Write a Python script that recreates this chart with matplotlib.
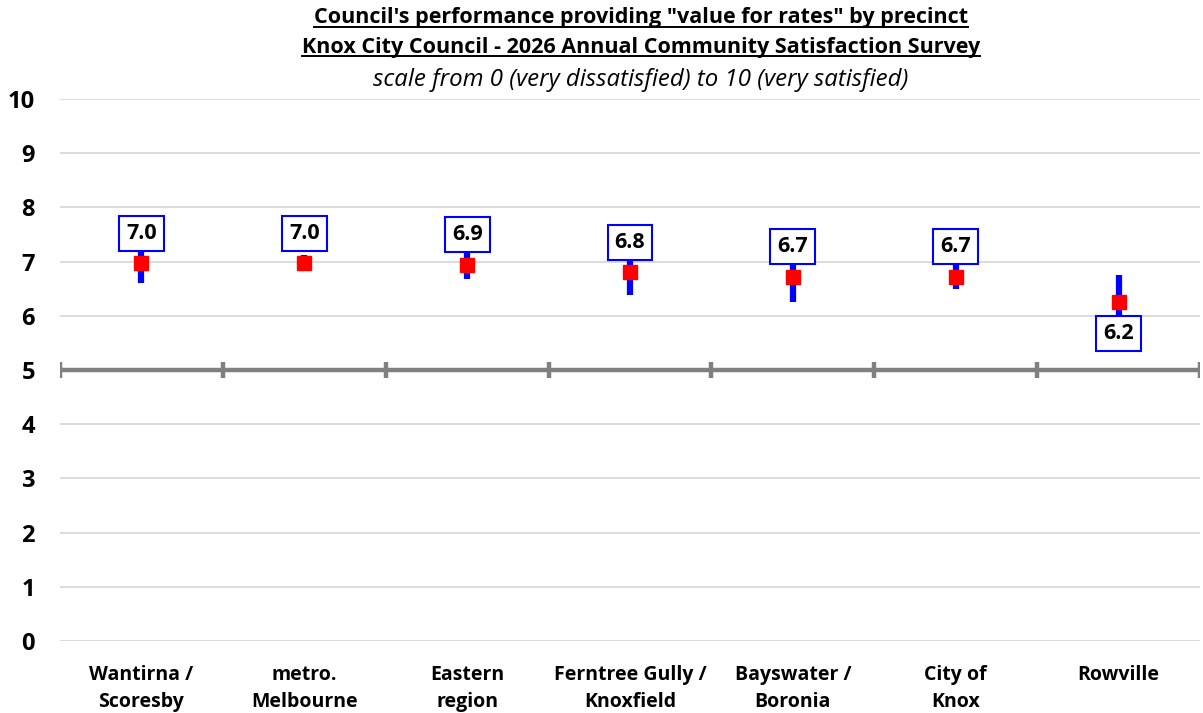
import matplotlib
matplotlib.use("Agg")
import matplotlib.pyplot as plt
from matplotlib.lines import Line2D

plt.rcParams['font.family'] = ['Open Sans', 'DejaVu Sans']

categories = ["Wantirna /\nScoresby", "metro.\nMelbourne", "Eastern\nregion",
              "Ferntree Gully /\nKnoxfield", "Bayswater /\nBoronia", "City of\nKnox", "Rowville"]
means = [6.97, 6.97, 6.94, 6.80, 6.72, 6.72, 6.25]
ci = [0.37, 0.15, 0.26, 0.41, 0.47, 0.22, 0.50]
labels = ["7.0", "7.0", "6.9", "6.8", "6.7", "6.7", "6.2"]
label_above = [True, True, True, True, True, True, False]
yticks = list(range(0, 11))

fig = plt.figure(figsize=(12.03, 7.13), dpi=100)
ax = fig.add_axes([60/1203, 72/713, 1140/1203, 542/713])
n = len(categories)
x = list(range(n))
ax.set_xlim(-0.5, n - 0.5)
ax.set_ylim(0, 10)

for yv in yticks:
    ax.axhline(yv, color='#d9d9d9', lw=1.3, zorder=0)
ax.axhline(5, color='#808080', lw=3.2, zorder=1)
for b in [i - 0.5 for i in range(n + 1)]:
    ax.plot([b, b], [4.86, 5.14], color='#808080', lw=3.2, zorder=1, solid_capstyle='butt')

for i in range(n):
    ax.plot([x[i], x[i]], [means[i] - ci[i], means[i] + ci[i]], color='#0000ff', lw=4.5,
            solid_capstyle='butt', zorder=2)
    ax.plot(x[i], means[i], marker='s', color='#ff0000', markersize=9.5, zorder=3, linestyle='none')
    off = 30 if label_above[i] else -31
    ax.annotate(labels[i], (x[i], means[i]), xytext=(0, off), textcoords='offset pixels',
                ha='center', va='center', fontsize=15.5, fontweight='bold', zorder=5,
                bbox=dict(boxstyle='square,pad=0.33', fc='white', ec='#0000ff', lw=1.5))

ax.set_yticks(yticks)
ax.set_yticklabels([str(v) for v in yticks], fontsize=17, fontweight='bold')
ax.tick_params(axis='y', length=0, pad=18)
ax.set_xticks(x)
ax.set_xticklabels(categories, fontsize=14, fontweight='bold', linespacing=1.5)
ax.tick_params(axis='x', length=0, pad=17)
for s in ax.spines.values():
    s.set_visible(False)

cx = 641/1203
t1 = fig.text(cx, 1 - 18/713, "Council's performance providing \"value for rates\" by precinct",
              ha='center', va='center', fontsize=15.5, fontweight='bold')
t2 = fig.text(cx, 1 - 47/713, "Knox City Council - 2026 Annual Community Satisfaction Survey",
              ha='center', va='center', fontsize=15.5, fontweight='bold')
fig.text(cx, 1 - 80/713, "scale from 0 (very dissatisfied) to 10 (very satisfied)",
         ha='center', va='center', fontsize=17.3, style='italic')

fig.canvas.draw()
r = fig.canvas.get_renderer()
for t in (t1, t2):
    bb = t.get_window_extent(r).transformed(fig.transFigure.inverted())
    yl = bb.y0 + 2.0/713
    fig.add_artist(Line2D([bb.x0, bb.x1], [yl, yl], color='black', lw=1.4, transform=fig.transFigure))

fig.savefig("out.png", dpi=100)
